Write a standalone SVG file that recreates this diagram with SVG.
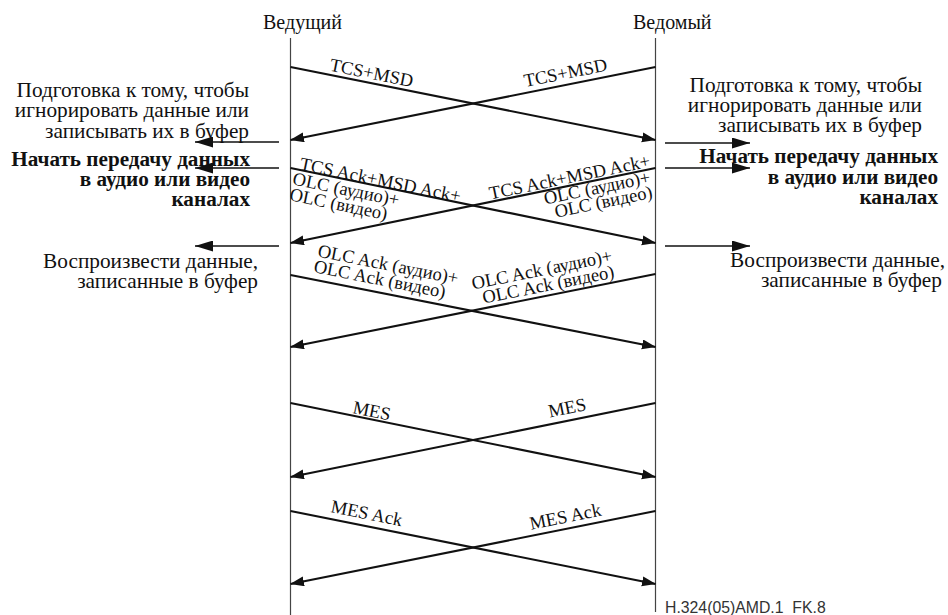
<svg xmlns="http://www.w3.org/2000/svg" width="948" height="615" viewBox="0 0 948 615">
<defs>
<marker id="ah" markerUnits="userSpaceOnUse" markerWidth="15" markerHeight="11" refX="13.5" refY="5" orient="auto">
<path d="M0,0 L14,5 L0,10 z" fill="#111"/>
</marker>
<marker id="ah2" markerUnits="userSpaceOnUse" markerWidth="19" markerHeight="11" refX="18" refY="5.5" orient="auto">
<path d="M0,0 L18,5.5 L0,11 z" fill="#111"/>
</marker>
</defs>
<style>
.t{font-family:"Liberation Serif","Times New Roman",serif;font-size:20px;fill:#111;text-anchor:end}
.h{font-family:"Liberation Serif","Times New Roman",serif;font-size:20px;fill:#111}
.b{font-family:"Liberation Serif","Times New Roman",serif;font-size:20px;font-weight:bold;fill:#111;text-anchor:end}
.l{font-family:"Liberation Serif","Times New Roman",serif;font-size:18.5px;fill:#111}
.e{text-anchor:end}
.life{stroke:#444;stroke-width:1.2;fill:none}
.msg{stroke:#111;stroke-width:2.2;fill:none;marker-end:url(#ah)}
.side{stroke:#111;stroke-width:1.3;fill:none;marker-end:url(#ah2)}
.foot{font-family:"Liberation Sans",Arial,sans-serif;font-size:15.8px;fill:#333}
</style>
<rect width="948" height="615" fill="#fff"/>

<g id="master">
<text class="h" x="263" y="29">Ведущий</text>
<line class="life" x1="290.5" y1="38" x2="290.5" y2="615"/>
</g>
<g id="slave">
<text class="h" x="633" y="29">Ведомый</text>
<line class="life" x1="655.5" y1="38" x2="655.5" y2="612"/>
</g>

<g id="left-notes">
<g transform="translate(249,0) scale(1.065,1)">
<text class="t" x="0" y="97">Подготовка к тому, чтобы</text>
<text class="t" x="0" y="117">игнорировать данные или</text>
<text class="t" x="0" y="138">записывать их в буфер</text>
</g>
<g transform="translate(250,0) scale(1.06,1)">
<text class="b" x="0" y="166">Начать передачу данных</text>
<text class="b" x="0" y="186">в аудио или видео</text>
<text class="b" x="0" y="206">каналах</text>
</g>
<g transform="translate(258,0) scale(1.065,1)">
<text class="t" x="0" y="268">Воспроизвести данные,</text>
<text class="t" x="0" y="288">записанные в буфер</text>
</g>
</g>
<g id="right-notes">
<g transform="translate(922,0) scale(1.065,1)">
<text class="t" x="0" y="92">Подготовка к тому, чтобы</text>
<text class="t" x="0" y="112">игнорировать данные или</text>
<text class="t" x="0" y="132">записывать их в буфер</text>
</g>
<g transform="translate(938,0) scale(1.06,1)">
<text class="b" x="0" y="163">Начать передачу данных</text>
<text class="b" x="0" y="184">в аудио или видео</text>
<text class="b" x="0" y="204">каналах</text>
</g>
<g transform="translate(945,0) scale(1.065,1)">
<text class="t" x="0" y="267">Воспроизвести данные,</text>
<text class="t" x="-3" y="287">записанные в буфер</text>
</g>
</g>

<g id="connectors">
<line class="side" x1="279" y1="142" x2="195" y2="142"/>
<line class="side" x1="279" y1="168" x2="195" y2="168"/>
<line class="side" x1="279" y1="246" x2="195" y2="246"/>
<line class="side" x1="665" y1="143" x2="750" y2="143"/>
<line class="side" x1="665" y1="168" x2="750" y2="168"/>
<line class="side" x1="665" y1="246" x2="750" y2="246"/>

<line class="msg" x1="290.5" y1="67" x2="655.5" y2="140"/>
<line class="msg" x1="655.5" y1="67" x2="290.5" y2="140"/>
<line class="msg" x1="290.5" y1="168" x2="655.5" y2="243"/>
<line class="msg" x1="655.5" y1="168" x2="290.5" y2="243"/>
<line class="msg" x1="290.5" y1="275" x2="655.5" y2="347"/>
<line class="msg" x1="655.5" y1="274" x2="290.5" y2="347"/>
<line class="msg" x1="290.5" y1="403" x2="655.5" y2="477"/>
<line class="msg" x1="655.5" y1="403" x2="290.5" y2="477"/>
<line class="msg" x1="290.5" y1="511" x2="655.5" y2="584"/>
<line class="msg" x1="655.5" y1="511" x2="290.5" y2="584"/>
</g>

<g id="labels">
<text class="l" transform="translate(329,70.5) rotate(11.3)">TCS+MSD</text>
<text class="l e" transform="translate(608,70.5) rotate(-11.3)">TCS+MSD</text>

<g transform="translate(299,169.5) rotate(11.6)">
<text class="l" x="0" y="0">TCS Ack+MSD Ack+</text>
<text class="l" x="-4" y="16">OLC (аудио)+</text>
<text class="l" x="-4" y="32">OLC (видео)</text>
</g>
<g transform="translate(651,166.5) rotate(-11.6)">
<text class="l e" x="0" y="0">TCS Ack+MSD Ack+</text>
<text class="l e" x="-3" y="16">OLC (аудио)+</text>
<text class="l e" x="-4" y="31">OLC (видео)</text>
</g>

<g transform="translate(317,256.5) rotate(11.2)">
<text class="l" x="0" y="0">OLC Ack (аудио)+</text>
<text class="l" x="-1" y="16">OLC Ack (видео)</text>
</g>
<g transform="translate(613,261.5) rotate(-11.3)">
<text class="l e" x="0" y="0">OLC Ack (аудио)+</text>
<text class="l e" x="-1" y="16">OLC Ack (видео)</text>
</g>

<text class="l" transform="translate(352,413) rotate(11.5)">MES</text>
<text class="l e" transform="translate(587,410) rotate(-11.5)">MES</text>
<text class="l" transform="translate(330,512) rotate(11.3)">MES Ack</text>
<text class="l e" transform="translate(602,515.5) rotate(-11.3)">MES Ack</text>
</g>

<text class="foot" x="665" y="612.5" xml:space="preserve">H.324(05)AMD.1  FK.8</text>
</svg>
